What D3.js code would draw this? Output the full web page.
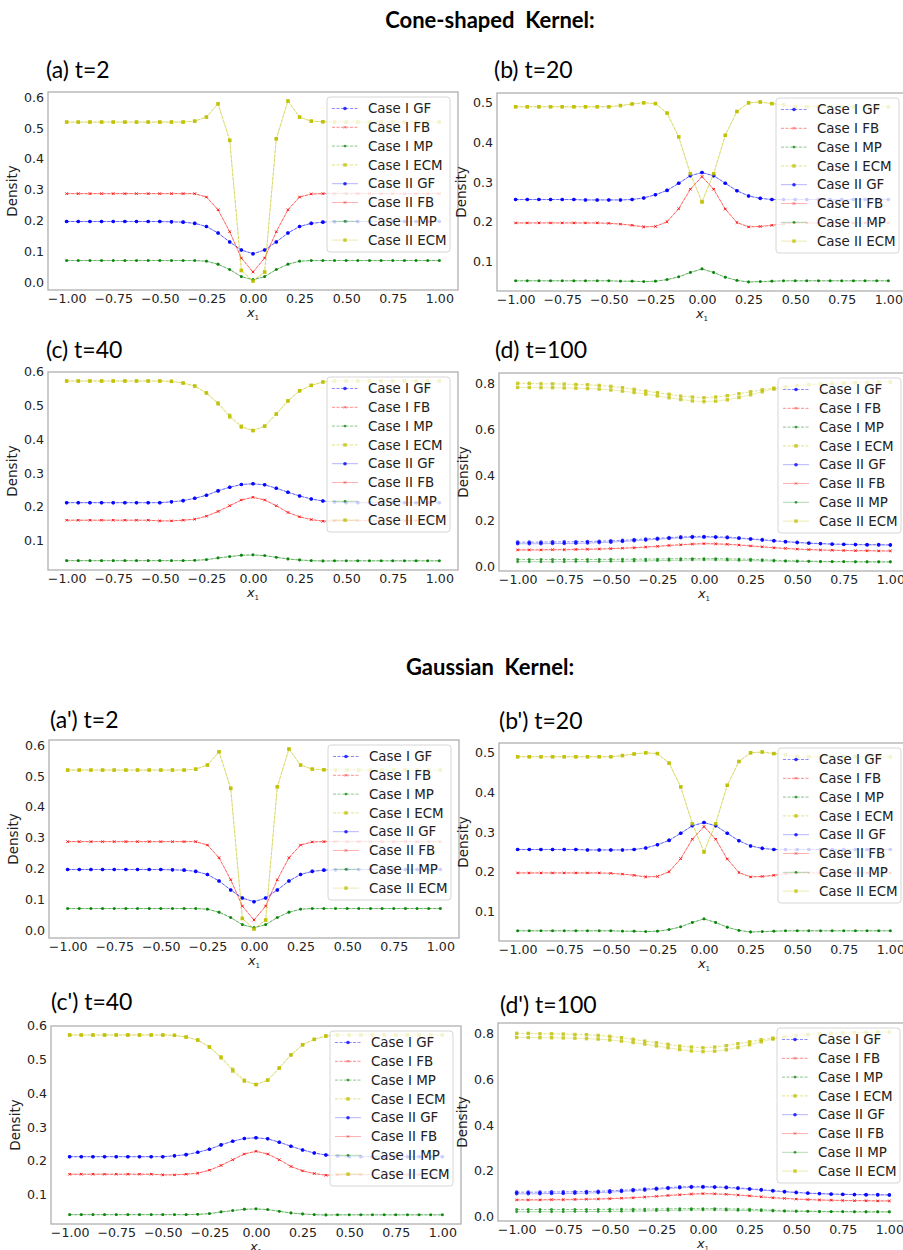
<!DOCTYPE html>
<html><head><meta charset="utf-8">
<script src="https://cdn.jsdelivr.net/npm/d3@7"></script>
<style>body{margin:0;background:#fff} svg{display:block}</style>
</head><body><svg id="c" width="903" height="1250"></svg>
<script>
// ---------- DATA ----------
const X = [-1,-0.9375,-0.875,-0.8125,-0.75,-0.6875,-0.625,-0.5625,-0.5,-0.4375,-0.375,-0.3125,-0.25,-0.1875,-0.125,-0.0625,0,
  0.0625,0.125,0.1875,0.25,0.3125,0.375,0.4375,0.5,0.5625,0.625,0.6875,0.75,0.8125,0.875,0.9375,1];
const xTicks = [-1,-0.75,-0.5,-0.25,0,0.25,0.5,0.75,1];
const seriesNames = ["Case I GF","Case I FB","Case I MP","Case I ECM","Case II GF","Case II FB","Case II MP","Case II ECM"];

// t = 2
const GF_t2  = [0.198,0.198,0.198,0.198,0.198,0.198,0.198,0.198,0.198,0.197,0.196,0.192,0.182,0.161,0.132,0.106,0.094,0.106,0.132,0.161,0.182,0.192,0.196,0.197,0.198,0.198,0.198,0.198,0.198,0.198,0.198,0.198,0.198];
const FB_t2  = [0.288,0.288,0.288,0.288,0.288,0.288,0.288,0.288,0.288,0.288,0.288,0.288,0.277,0.236,0.165,0.080,0.035,0.080,0.165,0.236,0.277,0.287,0.288,0.288,0.288,0.288,0.288,0.288,0.288,0.288,0.288,0.288,0.288];
const MP_t2  = [0.072,0.072,0.072,0.072,0.072,0.072,0.072,0.072,0.072,0.072,0.072,0.072,0.070,0.060,0.043,0.020,0.010,0.020,0.043,0.060,0.070,0.072,0.072,0.072,0.072,0.072,0.072,0.072,0.072,0.072,0.072,0.072,0.072];
const ECM_t2 = [0.519,0.519,0.519,0.519,0.519,0.519,0.519,0.519,0.519,0.519,0.519,0.522,0.535,0.578,0.460,0.040,0.006,0.035,0.465,0.587,0.535,0.522,0.520,0.519,0.519,0.519,0.519,0.519,0.519,0.519,0.519,0.519,0.519];
// t = 20
const GF_t20  = [0.256,0.256,0.256,0.256,0.256,0.256,0.255,0.255,0.255,0.255,0.256,0.260,0.268,0.279,0.297,0.316,0.324,0.316,0.297,0.278,0.265,0.259,0.256,0.256,0.256,0.256,0.256,0.256,0.256,0.256,0.256,0.256,0.256];
const FB_t20  = [0.197,0.197,0.197,0.197,0.197,0.197,0.197,0.197,0.196,0.194,0.191,0.187,0.188,0.200,0.233,0.282,0.314,0.282,0.232,0.198,0.187,0.188,0.191,0.195,0.197,0.197,0.197,0.197,0.197,0.197,0.197,0.197,0.197];
const MP_t20  = [0.051,0.051,0.051,0.051,0.051,0.051,0.051,0.051,0.051,0.050,0.050,0.049,0.050,0.054,0.061,0.072,0.081,0.072,0.060,0.052,0.048,0.049,0.050,0.051,0.051,0.051,0.051,0.051,0.051,0.051,0.051,0.051,0.051];
const ECM_t20 = [0.490,0.490,0.490,0.490,0.490,0.490,0.490,0.490,0.490,0.493,0.497,0.500,0.498,0.474,0.414,0.321,0.250,0.321,0.418,0.478,0.500,0.502,0.498,0.495,0.490,0.490,0.490,0.490,0.490,0.490,0.490,0.490,0.490];
// t = 40
const GF_t40  = [0.212,0.212,0.212,0.212,0.212,0.212,0.212,0.212,0.212,0.2145,0.218,0.225,0.234,0.247,0.258,0.266,0.268,0.265,0.255,0.243,0.232,0.223,0.217,0.214,0.212,0.212,0.212,0.212,0.212,0.212,0.212,0.212,0.212];
const FB_t40  = [0.160,0.160,0.160,0.160,0.160,0.160,0.160,0.160,0.158,0.158,0.160,0.163,0.172,0.186,0.203,0.220,0.228,0.220,0.203,0.183,0.170,0.162,0.157,0.158,0.159,0.159,0.159,0.159,0.159,0.159,0.159,0.159,0.159];
const MP_t40  = [0.040,0.040,0.040,0.040,0.040,0.040,0.040,0.040,0.040,0.040,0.040,0.041,0.043,0.048,0.052,0.056,0.057,0.055,0.050,0.045,0.042,0.040,0.039,0.0395,0.0395,0.0395,0.0395,0.0395,0.0395,0.0395,0.0395,0.0395,0.0395];
const ECM_t40_I  = [0.573,0.573,0.573,0.573,0.573,0.573,0.573,0.573,0.573,0.572,0.567,0.558,0.538,0.508,0.471,0.439,0.426,0.439,0.475,0.514,0.544,0.560,0.570,0.573,0.573,0.573,0.573,0.573,0.573,0.573,0.573,0.573,0.573];
const ECM_t40_II = [0.573,0.573,0.573,0.573,0.573,0.573,0.573,0.573,0.573,0.572,0.567,0.558,0.537,0.505,0.466,0.436,0.426,0.439,0.475,0.514,0.544,0.560,0.570,0.573,0.573,0.573,0.573,0.573,0.573,0.573,0.573,0.573,0.573];
// t = 100
const GF_t100_I  = [0.106,0.106,0.106,0.107,0.107,0.108,0.109,0.110,0.112,0.114,0.117,0.120,0.123,0.126,0.129,0.131,0.131,0.130,0.128,0.125,0.121,0.117,0.113,0.109,0.105,0.102,0.100,0.098,0.097,0.096,0.095,0.095,0.094];
const GF_t100_II = [0.099,0.099,0.099,0.100,0.100,0.101,0.102,0.104,0.106,0.109,0.112,0.115,0.119,0.122,0.125,0.127,0.128,0.127,0.125,0.122,0.119,0.115,0.111,0.107,0.104,0.101,0.099,0.097,0.096,0.095,0.094,0.094,0.093];
const FB_t100_I  = [0.073,0.073,0.073,0.074,0.074,0.075,0.076,0.077,0.078,0.080,0.082,0.085,0.088,0.092,0.095,0.098,0.100,0.099,0.097,0.094,0.090,0.086,0.082,0.079,0.076,0.074,0.072,0.071,0.070,0.069,0.069,0.068,0.068];
const FB_t100_II = [0.071,0.071,0.071,0.072,0.072,0.073,0.074,0.075,0.077,0.079,0.081,0.084,0.087,0.091,0.094,0.097,0.099,0.098,0.096,0.093,0.089,0.085,0.081,0.078,0.075,0.073,0.071,0.070,0.069,0.068,0.068,0.067,0.067];
const MP_t100_I  = [0.030,0.030,0.030,0.030,0.030,0.030,0.030,0.030,0.031,0.031,0.031,0.032,0.032,0.033,0.034,0.034,0.034,0.034,0.033,0.032,0.031,0.029,0.027,0.025,0.024,0.023,0.022,0.021,0.021,0.021,0.020,0.020,0.020];
const MP_t100_II = [0.020,0.020,0.020,0.020,0.020,0.021,0.021,0.021,0.022,0.022,0.023,0.024,0.025,0.026,0.027,0.028,0.028,0.028,0.027,0.026,0.025,0.024,0.023,0.022,0.021,0.021,0.020,0.020,0.020,0.019,0.019,0.019,0.019];
const ECM_t100_I  = [0.802,0.802,0.800,0.800,0.799,0.797,0.796,0.793,0.789,0.783,0.776,0.768,0.761,0.754,0.746,0.742,0.739,0.742,0.748,0.757,0.765,0.774,0.781,0.787,0.792,0.796,0.799,0.802,0.803,0.805,0.806,0.808,0.808];
const ECM_t100_II = [0.784,0.784,0.783,0.783,0.782,0.781,0.779,0.777,0.773,0.768,0.762,0.755,0.747,0.739,0.731,0.725,0.722,0.724,0.730,0.740,0.752,0.765,0.777,0.786,0.793,0.797,0.800,0.802,0.803,0.805,0.806,0.808,0.808];

const yTicks_t2 = [0,0.1,0.2,0.3,0.4,0.5,0.6];
const yTicks_t20 = [0.1,0.2,0.3,0.4,0.5];
const yTicks_t40 = [0.1,0.2,0.3,0.4,0.5,0.6];
const yTicks_t100 = [0,0.2,0.4,0.6,0.8];

const panelTitles = ["(a) t=2","(b) t=20","(c) t=40","(d) t=100","(a') t=2","(b') t=20","(c') t=40","(d') t=100"];
const headings = ["Cone-shaped  Kernel:","Gaussian  Kernel:"];

const set_t2   = [GF_t2,FB_t2,MP_t2,ECM_t2, GF_t2,FB_t2,MP_t2,ECM_t2];
const set_t20  = [GF_t20,FB_t20,MP_t20,ECM_t20, GF_t20,FB_t20,MP_t20,ECM_t20];
const set_t40  = [GF_t40,FB_t40,MP_t40,ECM_t40_I, GF_t40,FB_t40,MP_t40,ECM_t40_II];
const set_t100 = [GF_t100_I,FB_t100_I,MP_t100_I,ECM_t100_I, GF_t100_II,FB_t100_II,MP_t100_II,ECM_t100_II];

// ---------- LAYOUT / STYLE ----------
const colors = {GF:"#0000ff", FB:"#ff0000", MP:"#008000", ECM:"#bfbf00"};
const kinds = ["GF","FB","MP","ECM","GF","FB","MP","ECM"];
const W = 410, H = 198;
const panels = [
  {title:0, x:48,  y:92,   tx:46,  ty:78,  data:set_t2,   ticks:yTicks_t2},
  {title:1, x:497, y:93,   tx:494, ty:78,  data:set_t20,  ticks:yTicks_t20},
  {title:2, x:48,  y:372,  tx:46,  ty:358, data:set_t40,  ticks:yTicks_t40},
  {title:3, x:499, y:373,  tx:495, ty:358, data:set_t100, ticks:yTicks_t100},
  {title:4, x:49,  y:740,  tx:50,  ty:728, data:set_t2,   ticks:yTicks_t2},
  {title:5, x:499, y:743,  tx:499, ty:729, data:set_t20,  ticks:yTicks_t20},
  {title:6, x:51,  y:1026, tx:51,  ty:1010,data:set_t40,  ticks:yTicks_t40},
  {title:7, x:498, y:1023, tx:500, ty:1013,data:set_t100, ticks:yTicks_t100}
];

const svg = d3.select("#c");
svg.append("rect").attr("width",903).attr("height",1250).attr("fill","#fff");

svg.append("text").attr("x",490).attr("y",28).attr("text-anchor","middle")
  .attr("font-family","Lato, 'Open Sans', sans-serif").attr("font-weight","bold").attr("font-size",22)
  .style("white-space","pre").text(headings[0]);
svg.append("text").attr("x",490).attr("y",675).attr("text-anchor","middle")
  .attr("font-family","Lato, 'Open Sans', sans-serif").attr("font-weight","bold").attr("font-size",22)
  .style("white-space","pre").text(headings[1]);

function marker(g, kind, color, cx, cy){
  if(kind==="GF") g.append("circle").attr("cx",cx).attr("cy",cy).attr("r",1.8).attr("fill",color).attr("opacity",0.8);
  else if(kind==="FB") g.append("path").attr("d",`M${cx-1.2},${cy-1.2}L${cx+1.2},${cy+1.2}M${cx-1.2},${cy+1.2}L${cx+1.2},${cy-1.2}`)
      .attr("stroke",color).attr("stroke-width",1).attr("opacity",0.6);
  else if(kind==="MP") g.append("circle").attr("cx",cx).attr("cy",cy).attr("r",1.4).attr("fill",color).attr("opacity",0.75);
  else g.append("rect").attr("x",cx-1.7).attr("y",cy-1.7).attr("width",3.4).attr("height",3.4).attr("fill",color).attr("opacity",0.8);
}

panels.forEach(p => {
  const g = svg.append("g");
  const all = p.data.flat();
  const lo = d3.min(all), hi = d3.max(all), m = (hi-lo)*0.05;
  const xs = d3.scaleLinear().domain([-1.1,1.1]).range([p.x, p.x+W]);
  const ys = d3.scaleLinear().domain([lo-m, hi+m]).range([p.y+H, p.y]);

  svg.append("text").attr("x",p.tx).attr("y",p.ty)
    .attr("font-family","Lato, 'Open Sans', sans-serif").attr("font-size",23).attr("fill","#000")
    .text(panelTitles[p.title]);

  g.append("rect").attr("x",p.x).attr("y",p.y).attr("width",W).attr("height",H)
    .attr("fill","none").attr("stroke","#b0b0b0").attr("stroke-width",1.3);

  const xa = g.append("g").attr("transform",`translate(0,${p.y+H})`)
    .call(d3.axisBottom(xs).tickValues(xTicks).tickFormat(d3.format(".2f")).tickSize(0).tickPadding(4));
  const ya = g.append("g").attr("transform",`translate(${p.x},0)`)
    .call(d3.axisLeft(ys).tickValues(p.ticks).tickFormat(d3.format(".1f")).tickSize(0).tickPadding(4));
  [xa,ya].forEach(a=>{ a.select(".domain").remove();
    a.selectAll("text").attr("font-family","'DejaVu Sans', sans-serif").attr("font-size",12.6).attr("fill","#222"); });

  g.append("text").attr("transform",`translate(${p.x-31},${p.y+H/2}) rotate(-90)`).attr("text-anchor","middle")
    .attr("font-family","'DejaVu Sans', sans-serif").attr("font-size",13.5).attr("fill","#222").text("Density");
  const xl = g.append("text").attr("x",p.x+W/2).attr("y",p.y+H+27).attr("text-anchor","middle")
    .attr("font-family","'DejaVu Sans', sans-serif").attr("font-size",13).attr("fill","#222");
  xl.append("tspan").attr("font-style","italic").text("x");
  xl.append("tspan").attr("font-size",7).attr("dy",3).text("1");

  const line = d3.line().x((d,i)=>xs(X[i])).y(d=>ys(d));
  p.data.forEach((vals, si) => {
    const kind = kinds[si], col = colors[kind], dashed = si < 4;
    g.append("path").datum(vals).attr("d",line).attr("fill","none").attr("stroke",col)
      .attr("stroke-width",1).attr("stroke-opacity", dashed?0.45:0.3)
      .attr("stroke-dasharray", dashed?"3,1.5":null);
    const mg = g.append("g");
    vals.forEach((v,i)=>marker(mg, kind, col, xs(X[i]), ys(v)));
  });

  const lx = p.x+W-131, ly = p.y+5;
  const lg = g.append("g");
  lg.append("rect").attr("x",lx).attr("y",ly).attr("width",123).attr("height",155).attr("rx",3)
    .attr("fill","#fff").attr("fill-opacity",0.8).attr("stroke","#d6d6d6").attr("stroke-width",1);
  seriesNames.forEach((nm, si) => {
    const cy = ly + 11.5 + si*18.8, kind = kinds[si], col = colors[kind], dashed = si < 4;
    lg.append("line").attr("x1",lx+5).attr("x2",lx+31).attr("y1",cy).attr("y2",cy)
      .attr("stroke",col).attr("stroke-width",1).attr("stroke-opacity",dashed?0.45:0.3)
      .attr("stroke-dasharray",dashed?"3,1.5":null);
    marker(lg, kind, col, lx+18, cy);
    lg.append("text").attr("x",lx+41).attr("y",cy).attr("dy","0.35em")
      .attr("font-family","'DejaVu Sans', sans-serif").attr("font-size",13.4).attr("fill","#222").text(nm);
  });
});
</script></body></html>
